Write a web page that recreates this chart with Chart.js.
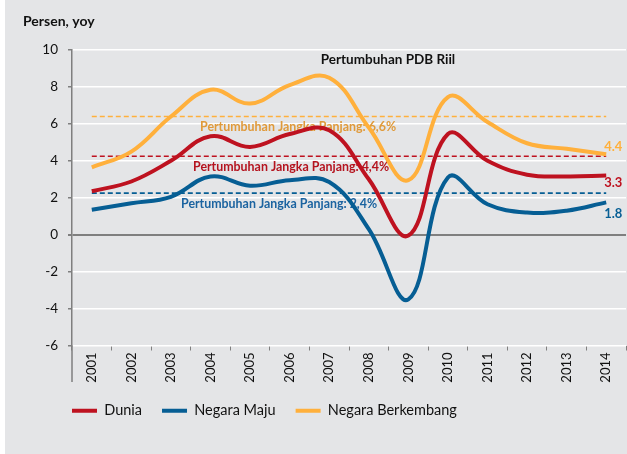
<!DOCTYPE html>
<html>
<head>
<meta charset="utf-8">
<script src="https://cdn.jsdelivr.net/npm/chart.js@4"></script>
<style>
  body { margin: 0; background: #fff; }
  #chart { display: block; margin-left: 5px; background: #e4e5e7; }
</style>
</head>
<body>
<canvas id="chart" width="622" height="454"></canvas>
<script>
// data
const years = ["2001", "2002", "2003", "2004", "2005", "2006", "2007",
               "2008", "2009", "2010", "2011", "2012", "2013", "2014"];
const dunia = [2.35, 2.88, 4.0, 5.33, 4.75, 5.45, 5.65, 3.0, -0.05, 5.45, 4.0, 3.25, 3.15, 3.2];
const negaraMaju = [1.35, 1.7, 2.05, 3.15, 2.65, 2.95, 2.85, 0.3, -3.5, 3.1, 1.65, 1.2, 1.3, 1.75];
const negaraBerkembang = [3.65, 4.5, 6.4, 7.85, 7.1, 8.1, 8.5, 5.8, 2.95, 7.45, 6.1, 4.95, 4.65, 4.35];

// long term averages (drawn level, label text)
const jangkaPanjangLevel = [6.4, 4.25, 2.25];
const jangkaPanjangText = ["6,6%", "4,4%", "2,4%"];
const endLabels = ["3.3", "1.8", "4.4"];

const RED = '#be1220';
const BLUE = '#065e94';
const ORANGE = '#ffb03c';
const AXIS = '#7f7f7f';
const FONT = 'Lato, "Open Sans", sans-serif';

function flat(v) { return years.map(() => v); }

const seriesColors = [RED, BLUE, ORANGE];
const seriesData = [dunia, negaraMaju, negaraBerkembang];
const levelColors = [ORANGE, RED, BLUE];
const levelTextColors = ['#e09a3a', '#b5141f', '#1b63a0'];
const levelTextX = [195, 188, 176];

const annotations = {
  id: 'annotations',
  afterLayout(chart) {
    // legend starts under the y axis, not at the canvas edge
    chart.legend.left += 47;
    chart.legend.right += 47;
  },
  beforeDatasetsDraw(chart) {
    const { ctx, scales: { y } } = chart;
    ctx.save();
    ctx.font = 'bold 12.4px ' + FONT;
    ctx.textAlign = 'left';
    ctx.textBaseline = 'middle';
    jangkaPanjangLevel.forEach((lvl, i) => {
      ctx.fillStyle = levelTextColors[i];
      ctx.fillText('Pertumbuhan Jangka Panjang: ' + jangkaPanjangText[i],
                   levelTextX[i], y.getPixelForValue(lvl) + 11);
    });
    ctx.restore();
  },
  afterDraw(chart) {
    const { ctx, chartArea, scales: { x, y } } = chart;
    ctx.save();
    // y axis runs on through the label area
    ctx.strokeStyle = AXIS;
    ctx.lineWidth = 1.5;
    ctx.beginPath();
    ctx.moveTo(chartArea.left, chartArea.bottom);
    ctx.lineTo(chartArea.left, 382);
    ctx.stroke();

    ctx.fillStyle = '#111';
    ctx.textBaseline = 'middle';
    ctx.font = 'bold 14px ' + FONT;
    ctx.textAlign = 'left';
    ctx.fillText('Persen, yoy', 18, 21);
    ctx.font = 'bold 13.5px ' + FONT;
    ctx.textAlign = 'center';
    ctx.fillText('Pertumbuhan PDB Riil', 383, 60);

    // values at the end of each series
    const last = years.length - 1;
    const offs = [7, 11, -8];
    ctx.font = 'bold 13px ' + FONT;
    ctx.textAlign = 'left';
    seriesData.forEach((d, i) => {
      ctx.fillStyle = seriesColors[i];
      ctx.fillText(endLabels[i], x.getPixelForValue(last) - 2, y.getPixelForValue(d[last]) + offs[i]);
    });
    ctx.restore();
  }
};

new Chart(document.getElementById('chart'), {
  type: 'line',
  data: {
    labels: years,
    datasets: [
      { label: 'Dunia', data: dunia, borderColor: RED, backgroundColor: RED },
      { label: 'Negara Maju', data: negaraMaju, borderColor: BLUE, backgroundColor: BLUE },
      { label: 'Negara Berkembang', data: negaraBerkembang, borderColor: ORANGE, backgroundColor: ORANGE },
      ...jangkaPanjangLevel.map((lvl, i) => ({
        label: 'Jangka Panjang ' + jangkaPanjangText[i],
        data: flat(lvl),
        borderColor: levelColors[i],
        borderWidth: 1.6,
        borderDash: [5, 3],
        tension: 0
      }))
    ]
  },
  options: {
    responsive: false,
    animation: false,
    layout: { padding: { left: 0, top: 50, right: 1, bottom: 26 } },
    elements: {
      line: { borderWidth: 4, tension: 0.4, fill: false },
      point: { radius: 0 }
    },
    scales: {
      x: {
        offset: true,
        afterFit: s => { s.height = 38; },
        grid: { drawOnChartArea: false, tickLength: 5, color: AXIS, offset: true },
        border: { display: false },
        ticks: {
          minRotation: 90, maxRotation: 90, padding: 2,
          color: '#111', font: { family: FONT, size: 13 }
        }
      },
      y: {
        min: -6, max: 10,
        afterFit: s => { s.width = 67; },
        ticks: { stepSize: 2, padding: 10, color: '#111', font: { family: FONT, size: 13.5 } },
        grid: {
          color: c => c.tick && c.tick.value === 0 ? AXIS : '#ffffff',
          lineWidth: c => c.tick && c.tick.value === 0 ? 2 : 1.5,
          tickLength: 4,
          tickColor: AXIS
        },
        border: { display: true, color: AXIS, width: 1.5 }
      }
    },
    plugins: {
      tooltip: { enabled: false },
      legend: {
        position: 'bottom',
        align: 'start',
        labels: {
          boxWidth: 25, boxHeight: 4, padding: 20,
          color: '#111', font: { family: FONT, size: 14.5 },
          filter: item => item.datasetIndex < 3,
          generateLabels: chart => Chart.defaults.plugins.legend.labels.generateLabels(chart)
            .map(l => Object.assign(l, { lineWidth: 0 }))
        }
      }
    }
  },
  plugins: [annotations]
});
</script>
</body>
</html>
